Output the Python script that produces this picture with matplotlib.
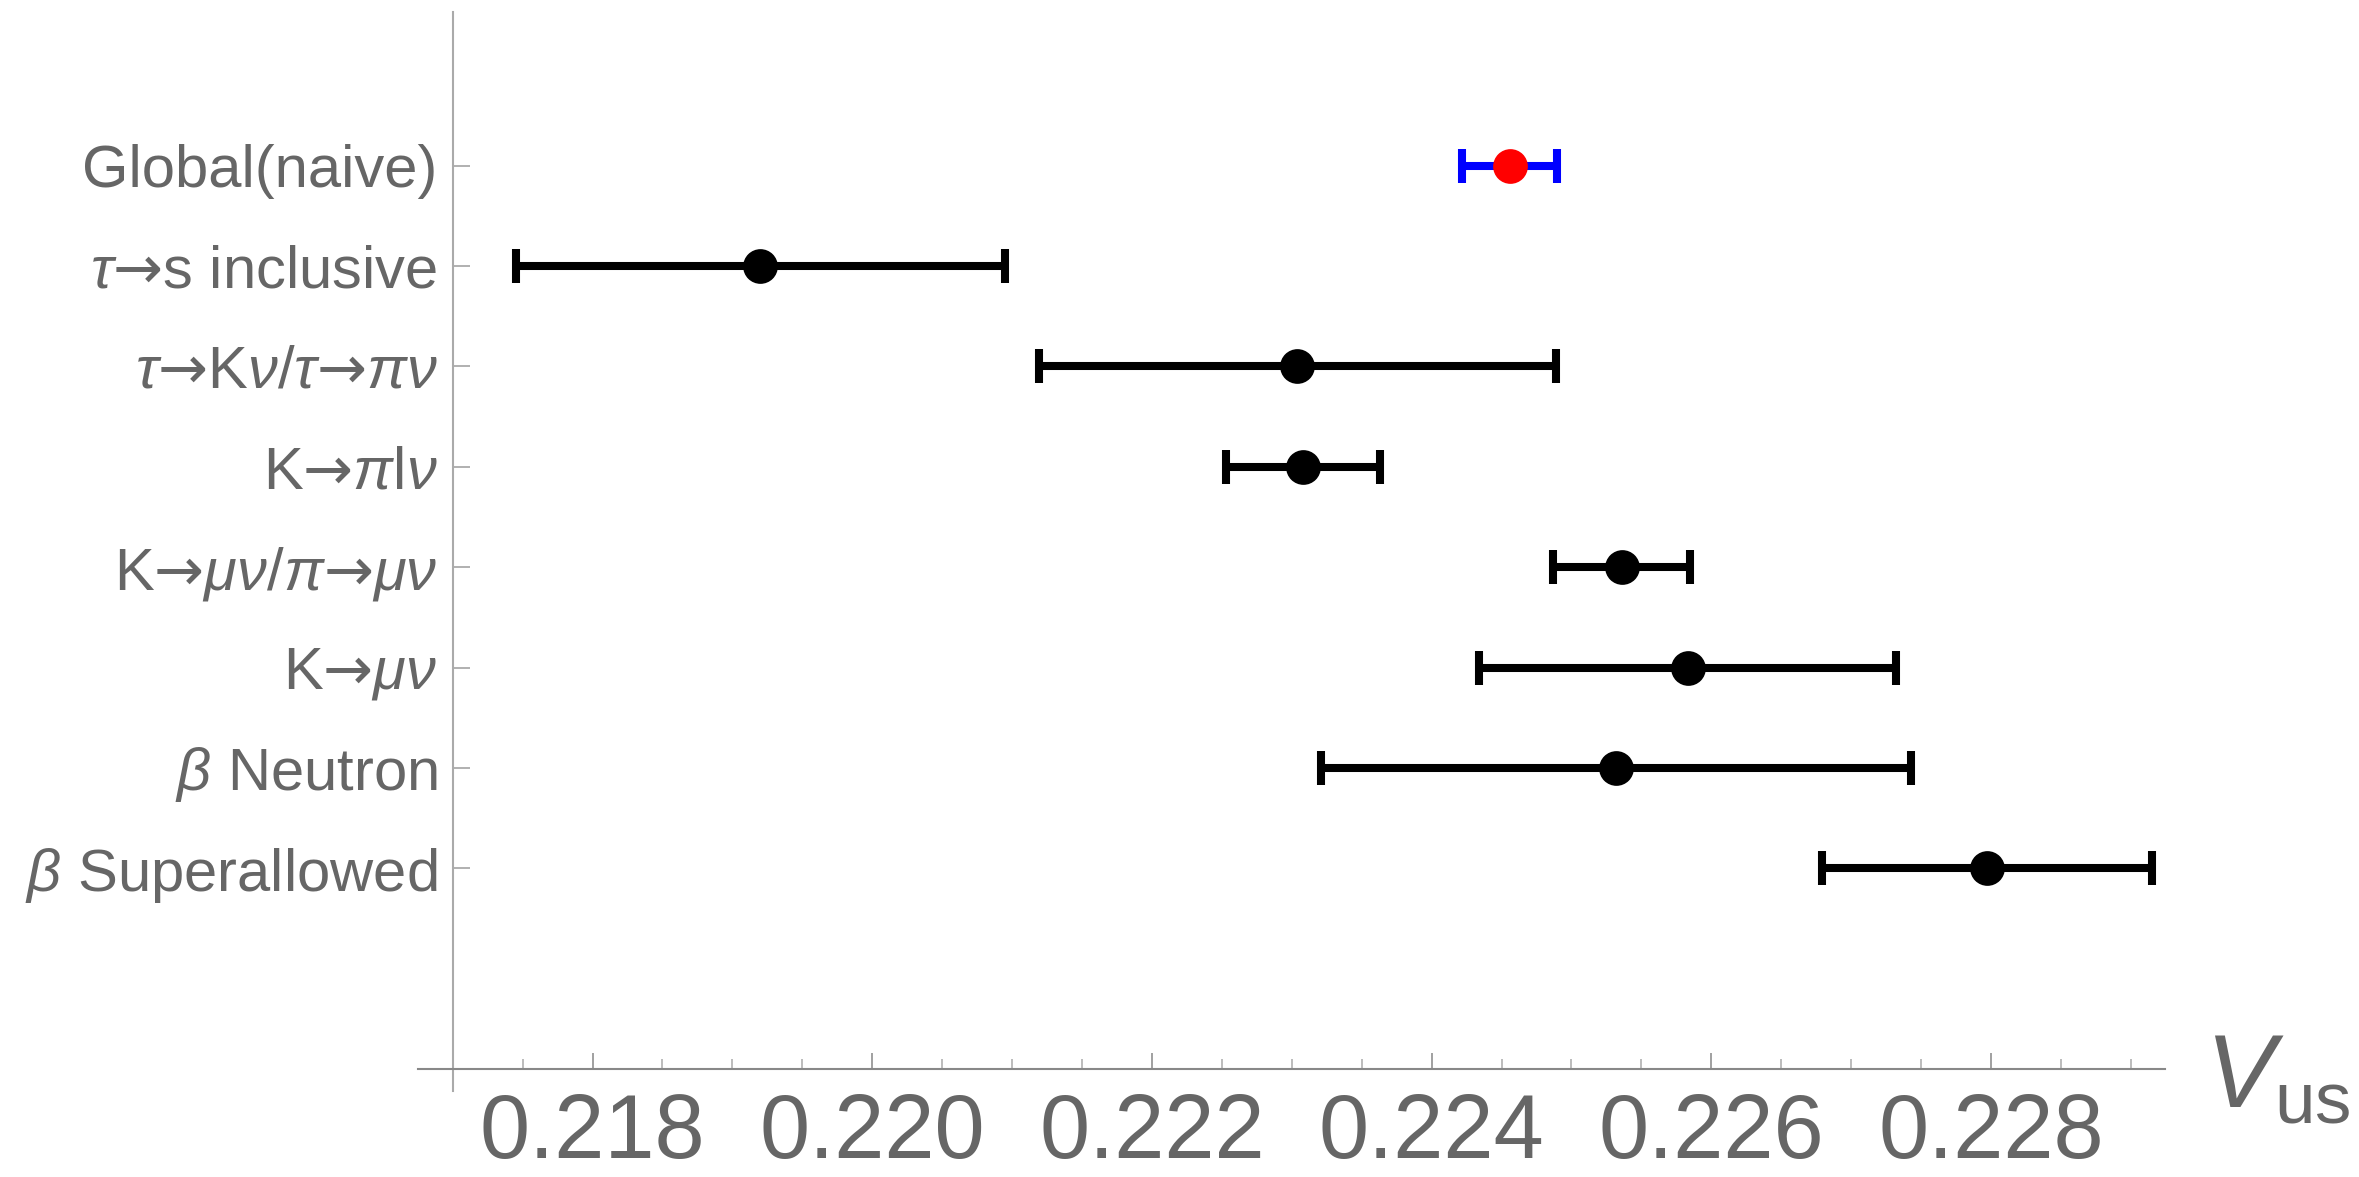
"""
Vus determinations with error bars
"""
import matplotlib
matplotlib.use("Agg")
import matplotlib.pyplot as plt
from matplotlib.ticker import FixedLocator, MultipleLocator

plt.rcParams['font.family'] = ['Liberation Sans', 'DejaVu Sans']
plt.rcParams['mathtext.fontset'] = 'custom'
plt.rcParams['mathtext.rm'] = 'Liberation Sans'
plt.rcParams['mathtext.it'] = 'Liberation Sans:italic'
plt.rcParams['mathtext.bf'] = 'Liberation Sans:bold'
# arrows come from DejaVu, the Liberation arrow is tiny
plt.rcParams['mathtext.sf'] = 'DejaVu Sans'

# channels, top to bottom
labels = [
    'Global(naive)',
    r'$\tau\mathsf{→}$s inclusive',
    r'$\tau\mathsf{→}$K$\nu$/$\tau\mathsf{→}\pi\nu$',
    r'K$\mathsf{→}\pi$l$\nu$',
    r'K$\mathsf{→}\mu\nu$/$\pi\mathsf{→}\mu\nu$',
    r'K$\mathsf{→}\mu\nu$',
    r'$\beta$ Neutron',
    r'$\beta$ Superallowed',
]
vus = [0.22456, 0.2192, 0.22304, 0.22308, 0.22536, 0.22583, 0.22532, 0.22797]
vus_err = [0.00034, 0.00175, 0.00185, 0.00055, 0.00049, 0.00149, 0.00211, 0.00118]
x_ticks = [0.218, 0.220, 0.222, 0.224, 0.226, 0.228]
x_ticklabels = ['0.218', '0.220', '0.222', '0.224', '0.226', '0.228']

W, H, DPI = 2359, 1177, 100
fig = plt.figure(figsize=(W / DPI, H / DPI), dpi=DPI)
ax = fig.add_axes([418 / W, 86 / H, (2165 - 418) / W, (1091 - 12) / H])

label_grey = '#666666'
n = len(labels)
rows = list(range(n, 0, -1))

for i in range(n):
    if i == 0:
        bar_col, dot_col = '#0000ff', '#ff0000'
    else:
        bar_col, dot_col = 'black', 'black'
    ax.errorbar(vus[i], rows[i], xerr=vus_err[i], fmt='none',
                ecolor=bar_col, elinewidth=5.8,
                capsize=11.9, capthick=5.8, zorder=2)
    ax.plot(vus[i], rows[i], 'o', color=dot_col, ms=25, mew=0, zorder=3)

ax.set_xlim(0.216752, 0.229244)
ax.set_ylim(-1.219, 9.531)

# axes cross at (0.217, -1)
ax.spines['left'].set_position(('data', 0.217))
ax.spines['bottom'].set_position(('data', -1.0))
ax.spines['top'].set_visible(False)
ax.spines['right'].set_visible(False)
ax.spines['left'].set_color('#aaaaaa')
ax.spines['bottom'].set_color('#888888')
ax.spines['left'].set_linewidth(1.5)
ax.spines['bottom'].set_linewidth(1.5)

ax.xaxis.set_major_locator(FixedLocator(x_ticks))
ax.xaxis.set_minor_locator(MultipleLocator(0.0005))
ax.set_xticklabels(x_ticklabels)
ax.tick_params(axis='x', which='major', direction='in', length=11.5,
               width=1.3, color='#999999', pad=16.5, labelsize=65,
               labelcolor=label_grey)
ax.tick_params(axis='x', which='minor', direction='in', length=7.2,
               width=1.1, color='#aaaaaa')

ax.set_yticks(rows)
ax.set_yticklabels(labels)
ax.tick_params(axis='y', direction='in', length=12, width=1.3,
               color='#aaaaaa', pad=11, labelsize=43, labelcolor=label_grey)

fig.text(2205 / W, (H - 1107) / H, r'$V_{\mathrm{us}}$', fontsize=75,
         color=label_grey, ha='left', va='baseline')

fig.savefig('out.png', dpi=DPI)
